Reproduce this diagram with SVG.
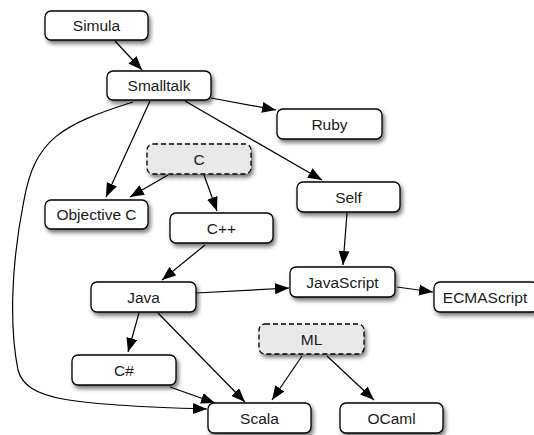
<svg xmlns="http://www.w3.org/2000/svg" width="534" height="435" viewBox="0 0 534 435">
  <style>
    .node rect { fill: #ffffff; stroke: #000000; stroke-width: 1.3; filter: url(#shadow); }
    .node.abstract rect { fill: #e8e8e8; stroke-dasharray: 5 3; }
    .node text { font-family: "Liberation Sans", Arial, sans-serif; font-size: 15.5px; fill: #1a1a1a; text-anchor: middle; dominant-baseline: central; }
    .edges path { fill: none; stroke: #000000; stroke-width: 1.2; marker-end: url(#arrow); }
  </style>
  <defs>
    <filter id="shadow" x="-20%" y="-30%" width="150%" height="180%">
      <feGaussianBlur in="SourceAlpha" stdDeviation="2"/>
      <feOffset dx="2" dy="3" result="blur"/>
      <feComponentTransfer><feFuncA type="linear" slope="0.55"/></feComponentTransfer>
      <feMerge><feMergeNode/><feMergeNode in="SourceGraphic"/></feMerge>
    </filter>
    <marker id="arrow" markerUnits="userSpaceOnUse" markerWidth="15" markerHeight="11" refX="14" refY="5.5" orient="auto" viewBox="0 0 15 11">
      <path d="M0,0 L14,5.5 L0,11 z" fill="#000000"/>
    </marker>
  </defs>

  <g class="edges">
    <path d="M115,41 L142,70"/>
    <path d="M211,98 L276,110"/>
    <path d="M185,101 L322,180"/>
    <path d="M150,101 L106,197"/>
    <path d="M133,102 C60,125 35,140 24,200 C10,270 10,330 18,370 C26,400 70,405 207,409"/>
    <path d="M168,175 L130,197"/>
    <path d="M204,175 L217,211"/>
    <path d="M205,245 L162,280"/>
    <path d="M196,293 L289,288"/>
    <path d="M347,213 L343,265"/>
    <path d="M397,287 L433,292"/>
    <path d="M139,313 L128,352"/>
    <path d="M158,313 L245,402"/>
    <path d="M170,387 L215,403"/>
    <path d="M302,356 L272,400"/>
    <path d="M327,356 L374,400"/>
  </g>

  <g id="simula" class="node"><rect x="45" y="11" width="103" height="29" rx="6"/><text x="96.5" y="25.5">Simula</text></g>
  <g id="smalltalk" class="node"><rect x="107" y="71" width="104" height="29" rx="6"/><text x="159" y="85.5">Smalltalk</text></g>
  <g id="ruby" class="node"><rect x="277" y="109" width="105" height="30" rx="6"/><text x="329.5" y="124">Ruby</text></g>
  <g id="c" class="node abstract"><rect x="147" y="144" width="104" height="30" rx="6"/><text x="199" y="159">C</text></g>
  <g id="self" class="node"><rect x="297" y="182" width="103" height="30" rx="6"/><text x="348.5" y="197">Self</text></g>
  <g id="objective-c" class="node"><rect x="45" y="200" width="103" height="29" rx="6"/><text x="96.5" y="214.5">Objective C</text></g>
  <g id="cpp" class="node"><rect x="170" y="213" width="103" height="30" rx="6"/><text x="221.5" y="228">C++</text></g>
  <g id="javascript" class="node"><rect x="290" y="267" width="105" height="30" rx="6"/><text x="342.5" y="282">JavaScript</text></g>
  <g id="ecmascript" class="node"><rect x="434" y="282" width="104" height="30" rx="6"/><text x="485" y="297">ECMAScript</text></g>
  <g id="java" class="node"><rect x="91" y="282" width="105" height="30" rx="6"/><text x="143.5" y="297">Java</text></g>
  <g id="ml" class="node abstract"><rect x="259" y="324" width="105" height="30" rx="6"/><text x="311.5" y="339">ML</text></g>
  <g id="csharp" class="node"><rect x="72" y="355" width="104" height="30" rx="6"/><text x="124" y="370">C#</text></g>
  <g id="scala" class="node"><rect x="208" y="403" width="103" height="30" rx="6"/><text x="259.5" y="418">Scala</text></g>
  <g id="ocaml" class="node"><rect x="340" y="403" width="103" height="30" rx="6"/><text x="391.5" y="418">OCaml</text></g>
</svg>
